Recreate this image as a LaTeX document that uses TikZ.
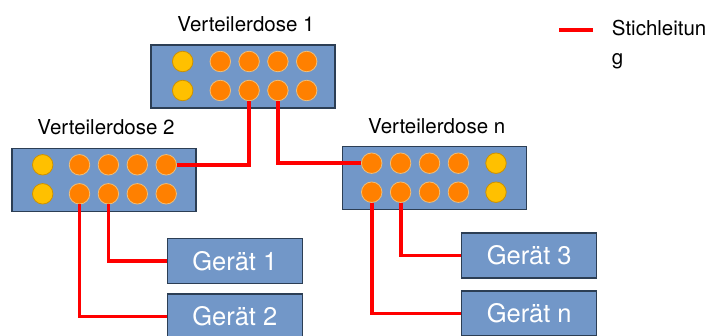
\documentclass[tikz,border=0pt]{standalone}
\usepackage{fontspec}
\setmainfont{TeX Gyre Heros}
\usetikzlibrary{positioning}
\definecolor{dosenblau}{RGB}{114,151,200}
\definecolor{rahmen}{RGB}{44,62,84}
\definecolor{orangepin}{RGB}{255,128,0}
\definecolor{orangerand}{RGB}{240,190,120}
\definecolor{gelbpin}{RGB}{255,192,0}
\definecolor{gelbrand}{RGB}{205,145,0}
\definecolor{leitung}{RGB}{255,0,0}
\begin{document}
\begin{tikzpicture}[x=1pt,y=-1pt,line cap=butt,line join=miter,
		dose/.style={draw=rahmen,line width=1.4pt,fill=dosenblau,minimum width=184pt,minimum height=63pt,inner sep=0pt},
		geraet/.style={dose,minimum width=135pt,minimum height=45pt,text=white,font=\fontsize{25.5}{30}\selectfont},
		pin/.style={circle,minimum size=20.5pt,inner sep=0pt,line width=0.8pt},
		pinO/.style={pin,fill=orangepin,draw=orangerand},
		pinG/.style={pin,fill=gelbpin,draw=gelbrand},
		titel/.style={font=\fontsize{20.5}{29}\selectfont,anchor=base,inner sep=0pt},
		stich/.style={draw=leitung,line width=3.8pt}]
		\useasboundingbox (0,0) rectangle (714,336);
		\clip (0,0) rectangle (714,336);
		%--------- Verteilerdosen
		\node[dose] (d1) at (243,76.5) {};
		\node[dose] (d2) at (104,180) {};
		\node[dose] (dn) at (434.7,178.3) {};
		\node[titel] (t1) at ([xshift=3pt,yshift=12.8pt]d1.north) {Verteilerdose 1};
		\node[titel] (t2) at ([xshift=2pt,yshift=13pt]d2.north) {Verteilerdose 2};
		\node[titel] (tn) at ([xshift=2pt,yshift=12.5pt]dn.north) {Verteilerdose n};
		%--------- Anschlüsse
		\foreach \r/\y in {1/16.5,2/45.5} {
			\node[pinG] (d1-\r-y) at (182.7,45+\y) {};
			\node[pinG] (d2-\r-y) at (42.7,148.3+\y) {};
			\node[pinG] (dn-\r-y) at (496,146.7+\y) {};
			\foreach \c in {1,...,4} {
				\node[pinO] (d1-\r-\c) at ({220.3+28.8*(\c-1)},45+\y) {};
				\node[pinO] (d2-\r-\c) at ({79.5+28.9*(\c-1)},148.3+\y) {};
				\node[pinO] (dn-\r-\c) at ({371.7+28.9*(\c-1)},146.7+\y) {};
			}
		}
		%--------- Geräte
		\node[geraet] (g1) at (234.8,260.8) {Gerät 1};
		\node[geraet] (g2) at (234.8,316.5) {Gerät 2};
		\node[geraet] (g3) at (529.2,255.5) {Gerät 3};
		\node[geraet] (gn) at (529.2,313.5) {Gerät n};
		%--------- Stichleitungen
		\draw[stich] (d1-2-2) |- (d2-1-4);
		\draw[stich] (d1-2-3) |- (dn-1-1);
		\draw[stich] (d2-2-2) |- (g1);
		\draw[stich] (d2-2-1) |- (g2);
		\draw[stich] (dn-2-2) |- (g3);
		\draw[stich] (dn-2-1) |- (gn);
		%--------- Legende
		\coordinate (leg-a) at (559,30);
		\coordinate (leg-b) at (593,30);
		\draw[stich] (leg-a) -- (leg-b);
		\node[font=\fontsize{20.5}{29}\selectfont,align=left,anchor=base west,inner sep=0pt] (legende) at (611.7,65) {Stichleitun\\g};
	\end{tikzpicture}
\end{document}
